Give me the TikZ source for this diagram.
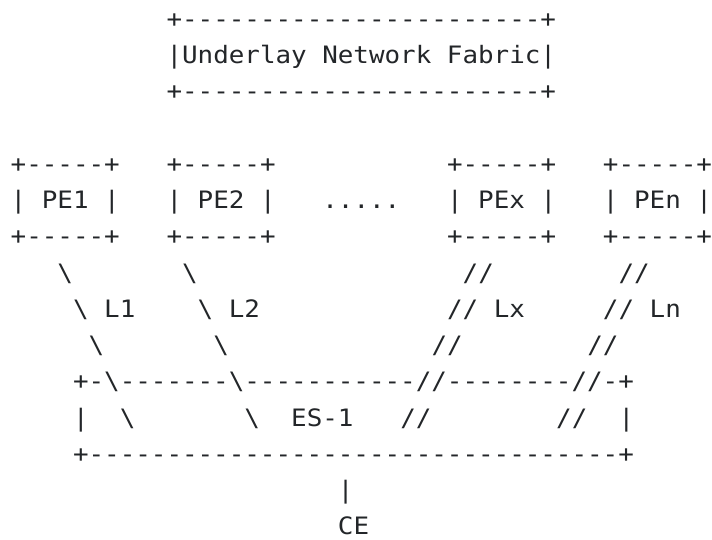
\documentclass[tikz,border=0pt]{standalone}
\usepackage{fontspec}
\setmonofont[FakeStretch=1.08]{DejaVu Sans Mono}
\definecolor{ink}{HTML}{232629}
\tikzset{asc/.style={anchor=base west, inner sep=0pt, text=ink, font=\ttfamily\fontsize{24pt}{24pt}\selectfont}}

\begin{document}
\begin{tikzpicture}[x=15.61pt, y=-36.3pt]
		\fill [white] (-10.5pt,27.5pt) rectangle (701.5pt,-512.5pt);
		
		\node [asc] (fabtop) at (10,0) {+-----------------------+};
		\node [asc] (fabric) at (10,1) {|Underlay Network Fabric|};
		\node [asc] (fabbot) at (10,2) {+-----------------------+};
		
		\foreach \c/\n in {0/1,10/2,28/x,38/n} {
			\node [asc] (top\n) at (\c,4) {+-----+};
			\node [asc] (pe\n) at (\c,5) {| PE\n{} |};
			\node [asc] (bot\n) at (\c,6) {+-----+};
		}
		\node [asc] (dots) at (20,5) {.....};
		
		\node [asc] (l1a) at (3,7) {\textbackslash};
		\node [asc] (l2a) at (11,7) {\textbackslash};
		\node [asc] (lxa) at (29,7) {//};
		\node [asc] (lna) at (39,7) {//};
		
		\node [asc] (l1b) at (4,8) {\textbackslash{} L1};
		\node [asc] (l2b) at (12,8) {\textbackslash{} L2};
		\node [asc] (lxb) at (28,8) {// Lx};
		\node [asc] (lnb) at (38,8) {// Ln};
		
		\node [asc] (l1c) at (5,9) {\textbackslash};
		\node [asc] (l2c) at (13,9) {\textbackslash};
		\node [asc] (lxc) at (27,9) {//};
		\node [asc] (lnc) at (37,9) {//};
		
		\node [asc] (estop) at (4,10) {+-\textbackslash-------\textbackslash-----------//--------//-+};
		\node [asc] (esl) at (4,11) {|};
		\node [asc] (l1d) at (7,11) {\textbackslash};
		\node [asc] (l2d) at (15,11) {\textbackslash};
		\node [asc] (es) at (18,11) {ES-1};
		\node [asc] (lxd) at (25,11) {//};
		\node [asc] (lnd) at (35,11) {//};
		\node [asc] (esr) at (39,11) {|};
		\node [asc] (esbot) at (4,12) {+----------------------------------+};
		
		\node [asc] (cel) at (21,13) {|};
		\node [asc] (ce) at (21,14) {CE};
	\end{tikzpicture}
\end{document}
